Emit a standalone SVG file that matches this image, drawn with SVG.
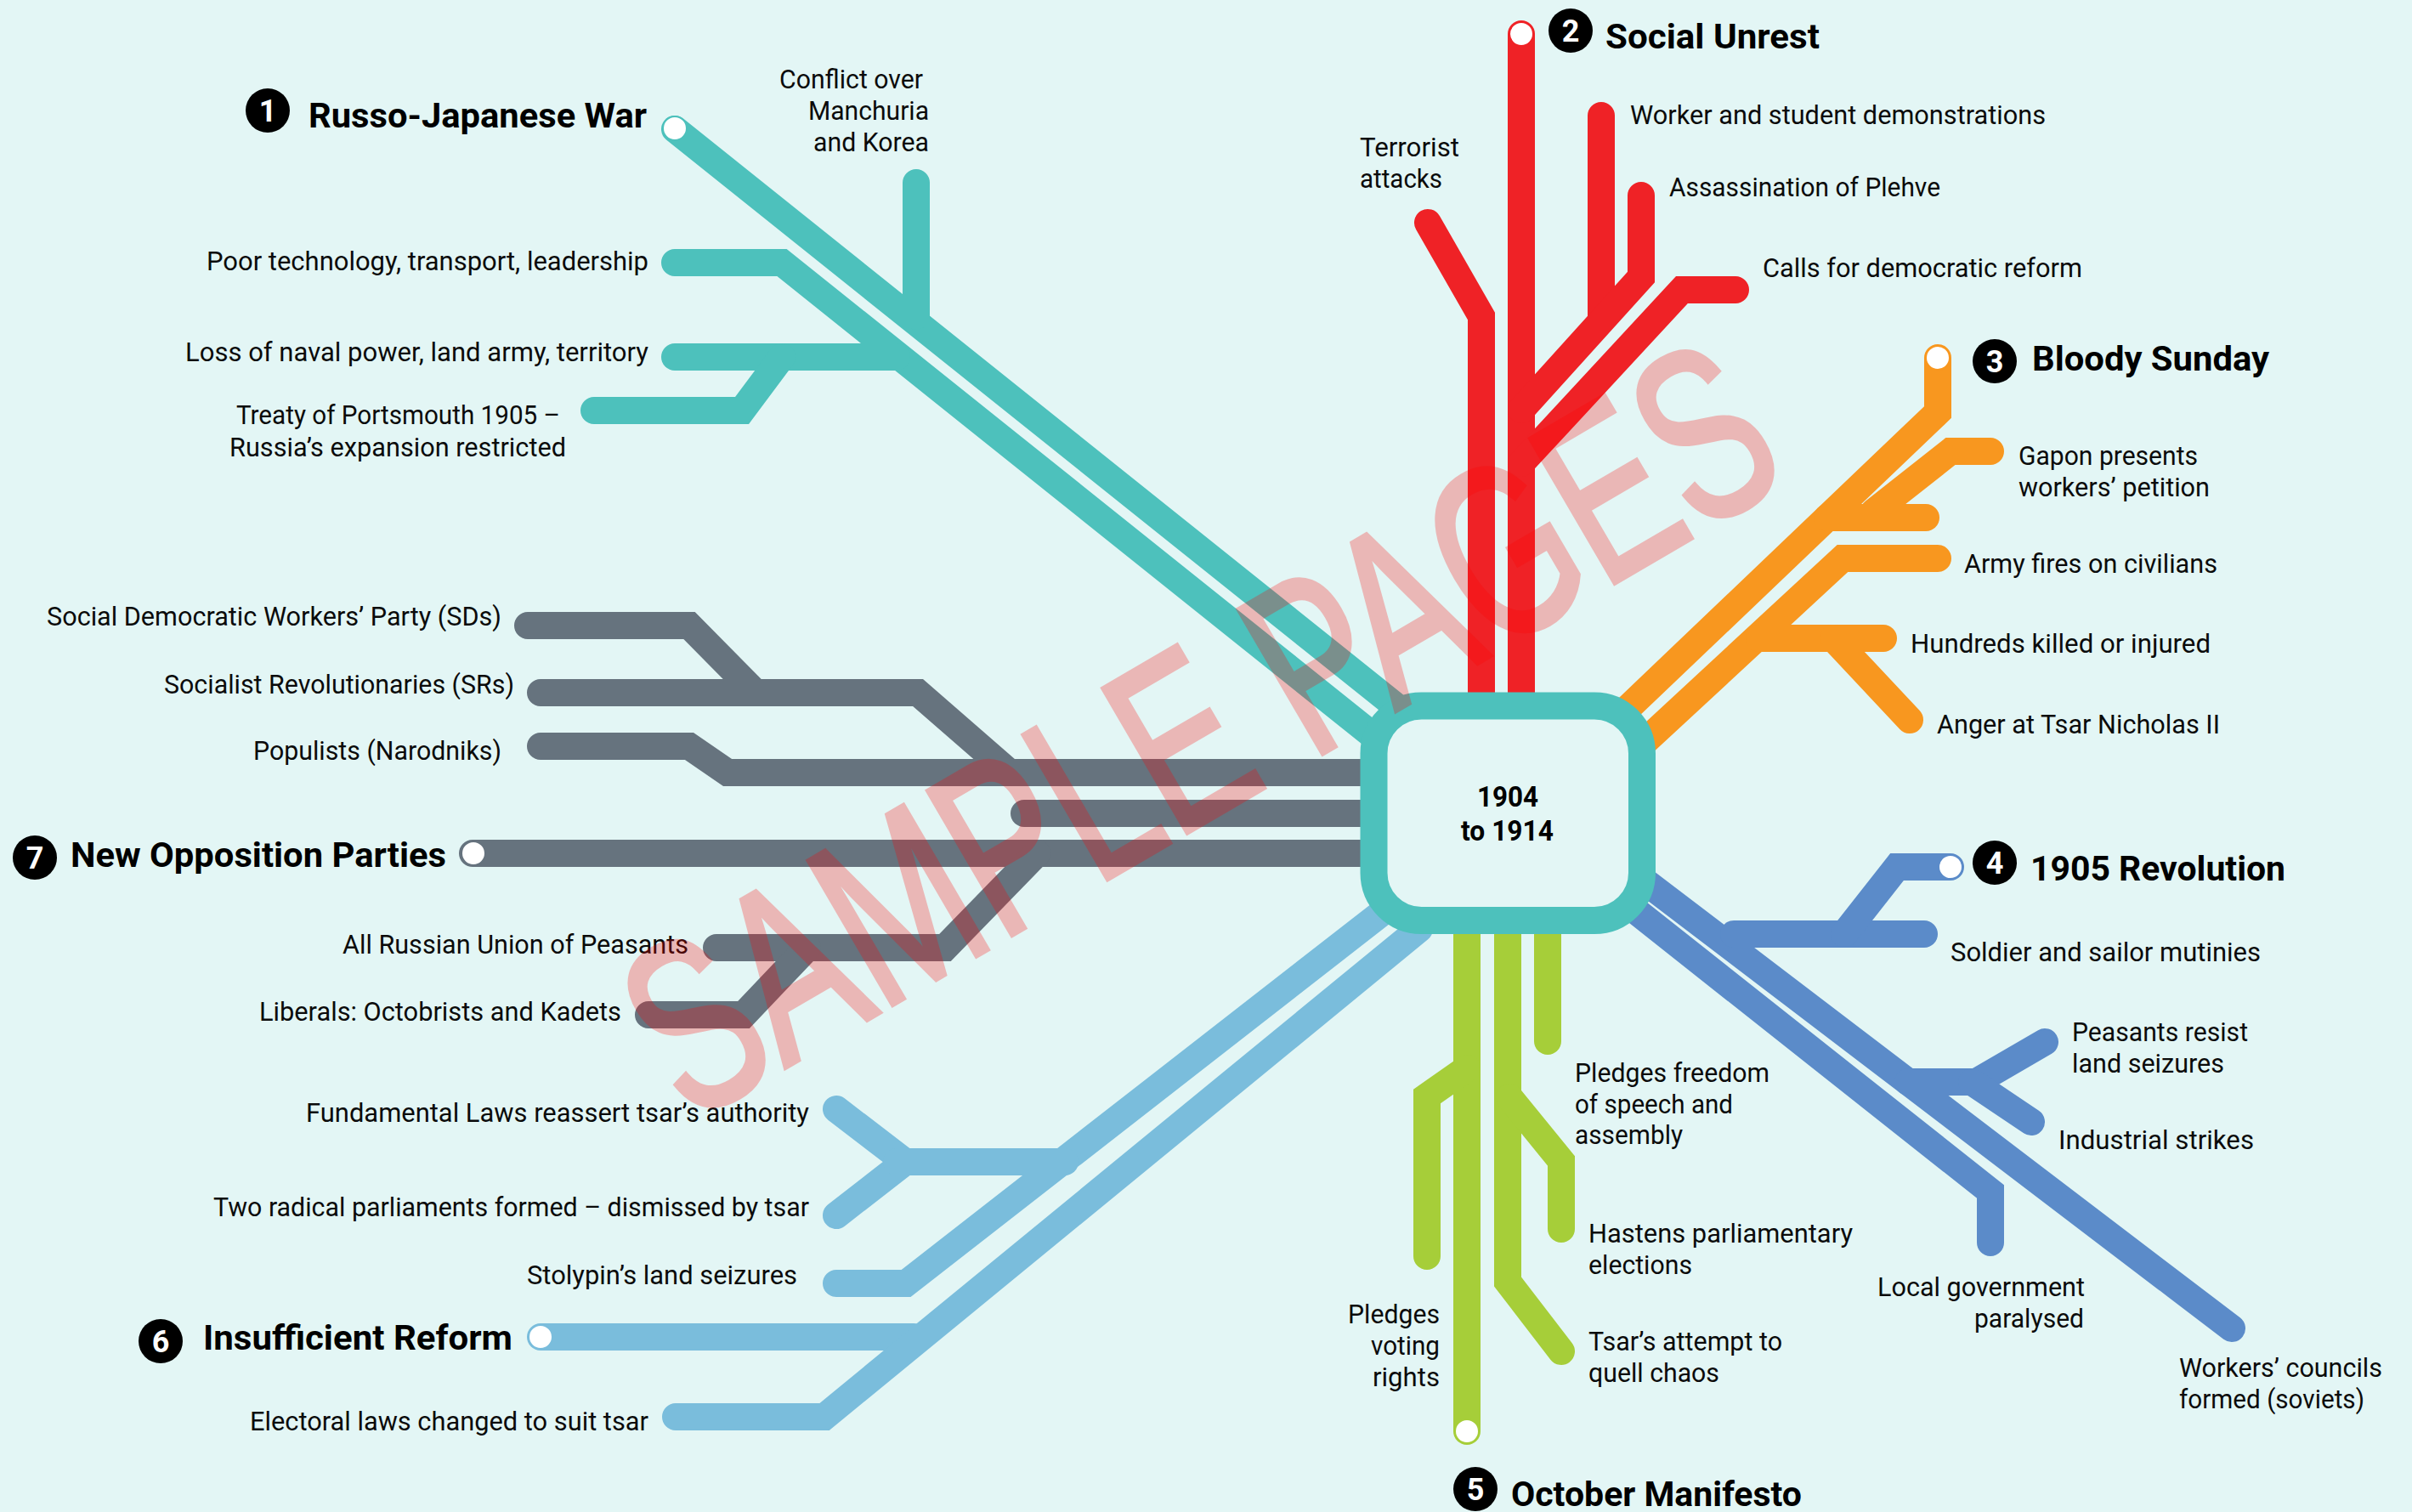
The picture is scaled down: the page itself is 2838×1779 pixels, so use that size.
<svg xmlns="http://www.w3.org/2000/svg" width="2838" height="1779" viewBox="0 0 2838 1779">
<style>
.c{fill:none;stroke-width:32;stroke-linecap:round;stroke-linejoin:miter;stroke-miterlimit:10}
.teal{stroke:#4dc1bc}.red{stroke:#ef2226}.orange{stroke:#f8971f}.blue{stroke:#5b8bc9}.green{stroke:#a6ce39}.lblue{stroke:#7abddc}.gray{stroke:#66737e}
text{font-family:Roboto,"Liberation Sans",sans-serif;fill:#0b0b0b}
.l{font-size:31px;font-weight:400}
.t{font-size:41px;font-weight:700;fill:#000}
.n{font-size:36px;font-weight:700;fill:#fff;text-anchor:middle}
.k{fill:#000}
.s{fill:#fff;stroke-width:2}
.m{font-size:33px;font-weight:700;fill:#000}
.w{font-family:"Liberation Sans",sans-serif;font-size:285px;fill:#f00;stroke:#f00;stroke-width:6;opacity:.25}
</style>
<rect id="background" width="2838" height="1779" fill="#e3f6f5"/>
<g id="connectors">
<g id="c1">
<path class="c teal" d="M794,152L1640,829"/>
<path class="c teal" d="M794,309H920L1640,885"/>
<path class="c teal" d="M1078,215V372"/>
<path class="c teal" d="M794,420H1055"/>
<path class="c teal" d="M699,483H873L920,420"/>
</g>
<g id="c2">
<path class="c red" d="M1790,40V830"/>
<path class="c red" d="M1743,830V372L1680,262"/>
<path class="c red" d="M1884,136V375"/>
<path class="c red" d="M1931,230V326L1790,482"/>
<path class="c red" d="M2042,341H1979L1790,545"/>
</g>
<g id="c3">
<path class="c orange" d="M2280,421V485L1905,843"/>
<path class="c orange" d="M2342,531H2295L2205,602"/>
<path class="c orange" d="M2266,609H2150"/>
<path class="c orange" d="M2280,657H2168L1925,882"/>
<path class="c orange" d="M2216,751H2070"/>
<path class="c orange" d="M2157,751L2247,847"/>
</g>
<g id="c4">
<path class="c blue" d="M2626,1563L1930,1033"/>
<path class="c blue" d="M2342,1462V1402L1920,1068"/>
<path class="c blue" d="M2264,1099H2040"/>
<path class="c blue" d="M2295,1020H2232L2170,1099"/>
<path class="c blue" d="M2406,1226L2325,1273H2245"/>
<path class="c blue" d="M2390,1320L2320,1273"/>
</g>
<g id="c5">
<path class="c green" d="M1726,1099V1684"/>
<path class="c green" d="M1774,1099V1508L1837,1590"/>
<path class="c green" d="M1837,1446V1366L1776,1291"/>
<path class="c green" d="M1821,1099V1225"/>
<path class="c green" d="M1679,1478V1290L1726,1257"/>
</g>
<g id="c6">
<path class="c lblue" d="M636,1573H1075"/>
<path class="c lblue" d="M795,1667H970L1670,1093"/>
<path class="c lblue" d="M984,1510H1066L1640,1063"/>
<path class="c lblue" d="M984,1305L1065,1367L984,1430"/>
<path class="c lblue" d="M1055,1367H1253"/>
</g>
<g id="c7">
<path class="c gray" d="M621,736H811L889,815"/>
<path class="c gray" d="M636,815H1080L1188,909"/>
<path class="c gray" d="M636,878H811L856,909H1610"/>
<path class="c gray" d="M1205,957H1610"/>
<path class="c gray" d="M556,1004H1610"/>
<path class="c gray" d="M843,1115H1112L1220,1004"/>
<path class="c gray" d="M763,1194H875L950,1115"/>
</g>
</g>
<g id="node-centre">
<rect x="1616.5" y="830.5" width="315.500" height="252.500" rx="56" ry="56" fill="#e3f6f5" stroke="#4dc1bc" stroke-width="32"/>
<text class="m" x="1738" y="949" textLength="72" lengthAdjust="spacingAndGlyphs">1904</text>
<text class="m" x="1719" y="989" textLength="109" lengthAdjust="spacingAndGlyphs">to 1914</text>
</g>
<g id="node-1">
<circle class="s" cx="794" cy="151" r="14" stroke="#4dc1bc"/>
<ellipse class="k" cx="315" cy="130" rx="26" ry="26"/><text class="n" x="315" y="143">1</text>
<text class="t" x="363" y="150" textLength="398" lengthAdjust="spacingAndGlyphs">Russo-Japanese War</text>
<text class="l" x="917" y="104" textLength="169" lengthAdjust="spacingAndGlyphs">Conflict over</text>
<text class="l" x="951" y="141" textLength="142" lengthAdjust="spacingAndGlyphs">Manchuria</text>
<text class="l" x="957" y="178" textLength="136" lengthAdjust="spacingAndGlyphs">and Korea</text>
<text class="l" x="243" y="318" textLength="520" lengthAdjust="spacingAndGlyphs">Poor technology, transport, leadership</text>
<text class="l" x="218" y="425" textLength="545" lengthAdjust="spacingAndGlyphs">Loss of naval power, land army, territory</text>
<text class="l" x="278" y="499" textLength="381" lengthAdjust="spacingAndGlyphs">Treaty of Portsmouth 1905 –</text>
<text class="l" x="270" y="537" textLength="396" lengthAdjust="spacingAndGlyphs">Russia’s expansion restricted</text>
</g>
<g id="node-2">
<circle class="s" cx="1790" cy="40" r="14" stroke="#ef2226"/>
<circle class="k" cx="1848" cy="36" r="26"/><text class="n" x="1848" y="49">2</text>
<text class="t" x="1889" y="57" textLength="252" lengthAdjust="spacingAndGlyphs">Social Unrest</text>
<text class="l" x="1918" y="146" textLength="489" lengthAdjust="spacingAndGlyphs">Worker and student demonstrations</text>
<text class="l" x="1600" y="184" textLength="117" lengthAdjust="spacingAndGlyphs">Terrorist</text>
<text class="l" x="1600" y="221" textLength="97" lengthAdjust="spacingAndGlyphs">attacks</text>
<text class="l" x="1964" y="231" textLength="319" lengthAdjust="spacingAndGlyphs">Assassination of Plehve</text>
<text class="l" x="2074" y="326" textLength="376" lengthAdjust="spacingAndGlyphs">Calls for democratic reform</text>
</g>
<g id="node-3">
<circle class="s" cx="2280" cy="421" r="14" stroke="#f8971f"/>
<circle class="k" cx="2347" cy="425" r="26"/><text class="n" x="2347" y="438">3</text>
<text class="t" x="2391" y="436" textLength="279" lengthAdjust="spacingAndGlyphs">Bloody Sunday</text>
<text class="l" x="2375" y="547" textLength="211" lengthAdjust="spacingAndGlyphs">Gapon presents</text>
<text class="l" x="2375" y="584" textLength="225" lengthAdjust="spacingAndGlyphs">workers’ petition</text>
<text class="l" x="2311" y="674" textLength="298" lengthAdjust="spacingAndGlyphs">Army fires on civilians</text>
<text class="l" x="2248" y="768" textLength="353" lengthAdjust="spacingAndGlyphs">Hundreds killed or injured</text>
<text class="l" x="2279" y="863" textLength="333" lengthAdjust="spacingAndGlyphs">Anger at Tsar Nicholas II</text>
</g>
<g id="node-4">
<circle class="s" cx="2295" cy="1020" r="14" stroke="#5b8bc9"/>
<circle class="k" cx="2347" cy="1015" r="26"/><text class="n" x="2347" y="1028">4</text>
<text class="t" x="2389" y="1036" textLength="300" lengthAdjust="spacingAndGlyphs">1905 Revolution</text>
<text class="l" x="2295" y="1131" textLength="365" lengthAdjust="spacingAndGlyphs">Soldier and sailor mutinies</text>
<text class="l" x="2438" y="1225" textLength="207" lengthAdjust="spacingAndGlyphs">Peasants resist</text>
<text class="l" x="2438" y="1262" textLength="179" lengthAdjust="spacingAndGlyphs">land seizures</text>
<text class="l" x="2422" y="1352" textLength="230" lengthAdjust="spacingAndGlyphs">Industrial strikes</text>
<text class="l" x="2209" y="1525" textLength="244" lengthAdjust="spacingAndGlyphs">Local government</text>
<text class="l" x="2323" y="1562" textLength="129" lengthAdjust="spacingAndGlyphs">paralysed</text>
<text class="l" x="2564" y="1620" textLength="239" lengthAdjust="spacingAndGlyphs">Workers’ councils</text>
<text class="l" x="2564" y="1657" textLength="218" lengthAdjust="spacingAndGlyphs">formed (soviets)</text>
</g>
<g id="node-5">
<circle class="s" cx="1726" cy="1684" r="14" stroke="#a6ce39"/>
<circle class="k" cx="1736" cy="1752" r="26"/><text class="n" x="1736" y="1765">5</text>
<text class="t" x="1778" y="1772" textLength="342" lengthAdjust="spacingAndGlyphs">October Manifesto</text>
<text class="l" x="1853" y="1273" textLength="229" lengthAdjust="spacingAndGlyphs">Pledges freedom</text>
<text class="l" x="1853" y="1310" textLength="186" lengthAdjust="spacingAndGlyphs">of speech and</text>
<text class="l" x="1853" y="1346" textLength="127" lengthAdjust="spacingAndGlyphs">assembly</text>
<text class="l" x="1869" y="1462" textLength="311" lengthAdjust="spacingAndGlyphs">Hastens parliamentary</text>
<text class="l" x="1869" y="1499" textLength="122" lengthAdjust="spacingAndGlyphs">elections</text>
<text class="l" x="1869" y="1589" textLength="228" lengthAdjust="spacingAndGlyphs">Tsar’s attempt to</text>
<text class="l" x="1869" y="1626" textLength="154" lengthAdjust="spacingAndGlyphs">quell chaos</text>
<text class="l" x="1586" y="1557" textLength="108" lengthAdjust="spacingAndGlyphs">Pledges</text>
<text class="l" x="1613" y="1594" textLength="81" lengthAdjust="spacingAndGlyphs">voting</text>
<text class="l" x="1615" y="1631" textLength="79" lengthAdjust="spacingAndGlyphs">rights</text>
</g>
<g id="node-6">
<circle class="s" cx="636" cy="1573" r="14" stroke="#7abddc"/>
<circle class="k" cx="189" cy="1578" r="26"/><text class="n" x="189" y="1591">6</text>
<text class="t" x="239" y="1588" textLength="364" lengthAdjust="spacingAndGlyphs">Insufficient Reform</text>
<text class="l" x="360" y="1320" textLength="592" lengthAdjust="spacingAndGlyphs">Fundamental Laws reassert tsar’s authority</text>
<text class="l" x="251" y="1431" textLength="701" lengthAdjust="spacingAndGlyphs">Two radical parliaments formed – dismissed by tsar</text>
<text class="l" x="620" y="1511" textLength="318" lengthAdjust="spacingAndGlyphs">Stolypin’s land seizures</text>
<text class="l" x="294" y="1683" textLength="469" lengthAdjust="spacingAndGlyphs">Electoral laws changed to suit tsar</text>
</g>
<g id="node-7">
<circle class="s" cx="557" cy="1004" r="14" stroke="#66737e"/>
<circle class="k" cx="41" cy="1009" r="26"/><text class="n" x="41" y="1022">7</text>
<text class="t" x="83" y="1020" textLength="442" lengthAdjust="spacingAndGlyphs">New Opposition Parties</text>
<text class="l" x="55" y="736" textLength="535" lengthAdjust="spacingAndGlyphs">Social Democratic Workers’ Party (SDs)</text>
<text class="l" x="193" y="816" textLength="412" lengthAdjust="spacingAndGlyphs">Socialist Revolutionaries (SRs)</text>
<text class="l" x="298" y="894" textLength="292" lengthAdjust="spacingAndGlyphs">Populists (Narodniks)</text>
<text class="l" x="403" y="1122" textLength="407" lengthAdjust="spacingAndGlyphs">All Russian Union of Peasants</text>
<text class="l" x="305" y="1201" textLength="426" lengthAdjust="spacingAndGlyphs">Liberals: Octobrists and Kadets</text>
</g>
<text id="watermark" class="w" transform="translate(811,1322) rotate(-30.300)" textLength="1505" lengthAdjust="spacingAndGlyphs">SAMPLE PAGES</text>
</svg>
